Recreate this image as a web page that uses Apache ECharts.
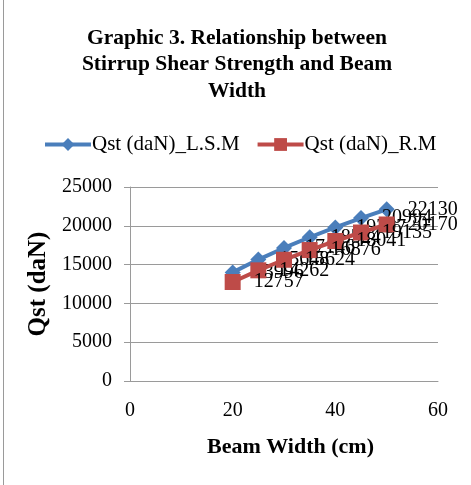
<!DOCTYPE html>
<html>
<head>
<meta charset="utf-8">
<script src="https://cdn.jsdelivr.net/npm/echarts@6/dist/echarts.min.js"></script>
<style>html,body{margin:0;padding:0;background:#fff}#c{width:471px;height:485px}</style>
</head>
<body>
<div id="c"></div>
<script>
const beamWidth = [20, 25, 30, 35, 40, 45, 50];
const qstLSM = [13996, 15648, 17146, 18524, 19797, 20994, 22130];
const qstRM = [12757, 14262, 15624, 16876, 18041, 19135, 20170];
const seriesNames = ['Qst (daN)_L.S.M', 'Qst (daN)_R.M'];
const yTicks = [0, 5000, 10000, 15000, 20000, 25000];
const xTicks = [0, 20, 40, 60];

const font = '"Liberation Serif", "Times New Roman", serif';
const chart = echarts.init(document.getElementById('c'), null, {renderer: 'canvas'});
const lbl = {show: true, position: 'right', distance: 13, color: '#000', fontFamily: font, fontSize: 20};
chart.setOption({
  animation: false,
  title: {
    text: 'Graphic 3. Relationship between\nStirrup Shear Strength and Beam\nWidth',
    left: 232, top: 20, textAlign: 'center',
    textStyle: {fontFamily: font, fontWeight: 'bold', fontSize: 21.5, lineHeight: 26.5, color: '#000'}
  },
  legend: {
    top: 129, left: 38, itemGap: 16, itemWidth: 46, itemHeight: 16,
    lineStyle: {width: 4},
    textStyle: {fontFamily: font, fontSize: 21, color: '#000', padding: [0, 0, 0, -4]},
    data: seriesNames
  },
  grid: {left: 130, right: 33, top: 187, bottom: 104},
  xAxis: {
    type: 'value', min: xTicks[0], max: xTicks[xTicks.length - 1], interval: 20,
    name: 'Beam Width (cm)', nameLocation: 'middle', nameGap: 55,
    nameTextStyle: {fontFamily: font, fontWeight: 'bold', fontSize: 22, color: '#000', padding: [0, 0, 0, 13]},
    axisLine: {lineStyle: {color: '#9a9a9a', width: 1}},
    axisTick: {show: false},
    axisLabel: {fontFamily: font, fontSize: 20, color: '#000', margin: 20},
    splitLine: {show: false}
  },
  yAxis: {
    type: 'value', min: yTicks[0], max: yTicks[yTicks.length - 1], interval: 5000,
    name: 'Qst (daN)', nameLocation: 'middle', nameGap: 78, nameRotate: 90,
    nameTextStyle: {fontFamily: font, fontWeight: 'bold', fontSize: 25, color: '#000'},
    axisLine: {show: true, lineStyle: {color: '#9a9a9a', width: 1}},
    axisTick: {show: true, length: 6, lineStyle: {color: '#9a9a9a'}},
    axisLabel: {fontFamily: font, fontSize: 20, color: '#000', margin: 18, formatter: v => String(v)},
    splitLine: {show: true, lineStyle: {color: '#9a9a9a', width: 1}}
  },
  graphic: [{type: 'line', shape: {x1: 3.5, y1: 0, x2: 3.5, y2: 485}, style: {stroke: '#9a9a9a', lineWidth: 1}}],
  series: [
    {
      name: seriesNames[0], type: 'line', symbol: 'diamond', symbolSize: 16,
      data: beamWidth.map((x, i) => [x, qstLSM[i]]),
      lineStyle: {color: '#4a7ebb', width: 4}, itemStyle: {color: '#4a7ebb'},
      label: lbl, z: 2
    },
    {
      name: seriesNames[1], type: 'line', symbol: 'rect', symbolSize: 16,
      data: beamWidth.map((x, i) => [x, qstRM[i]]),
      lineStyle: {color: '#be4b48', width: 4}, itemStyle: {color: '#be4b48'},
      label: lbl, z: 3
    }
  ]
});
</script>
</body>
</html>
